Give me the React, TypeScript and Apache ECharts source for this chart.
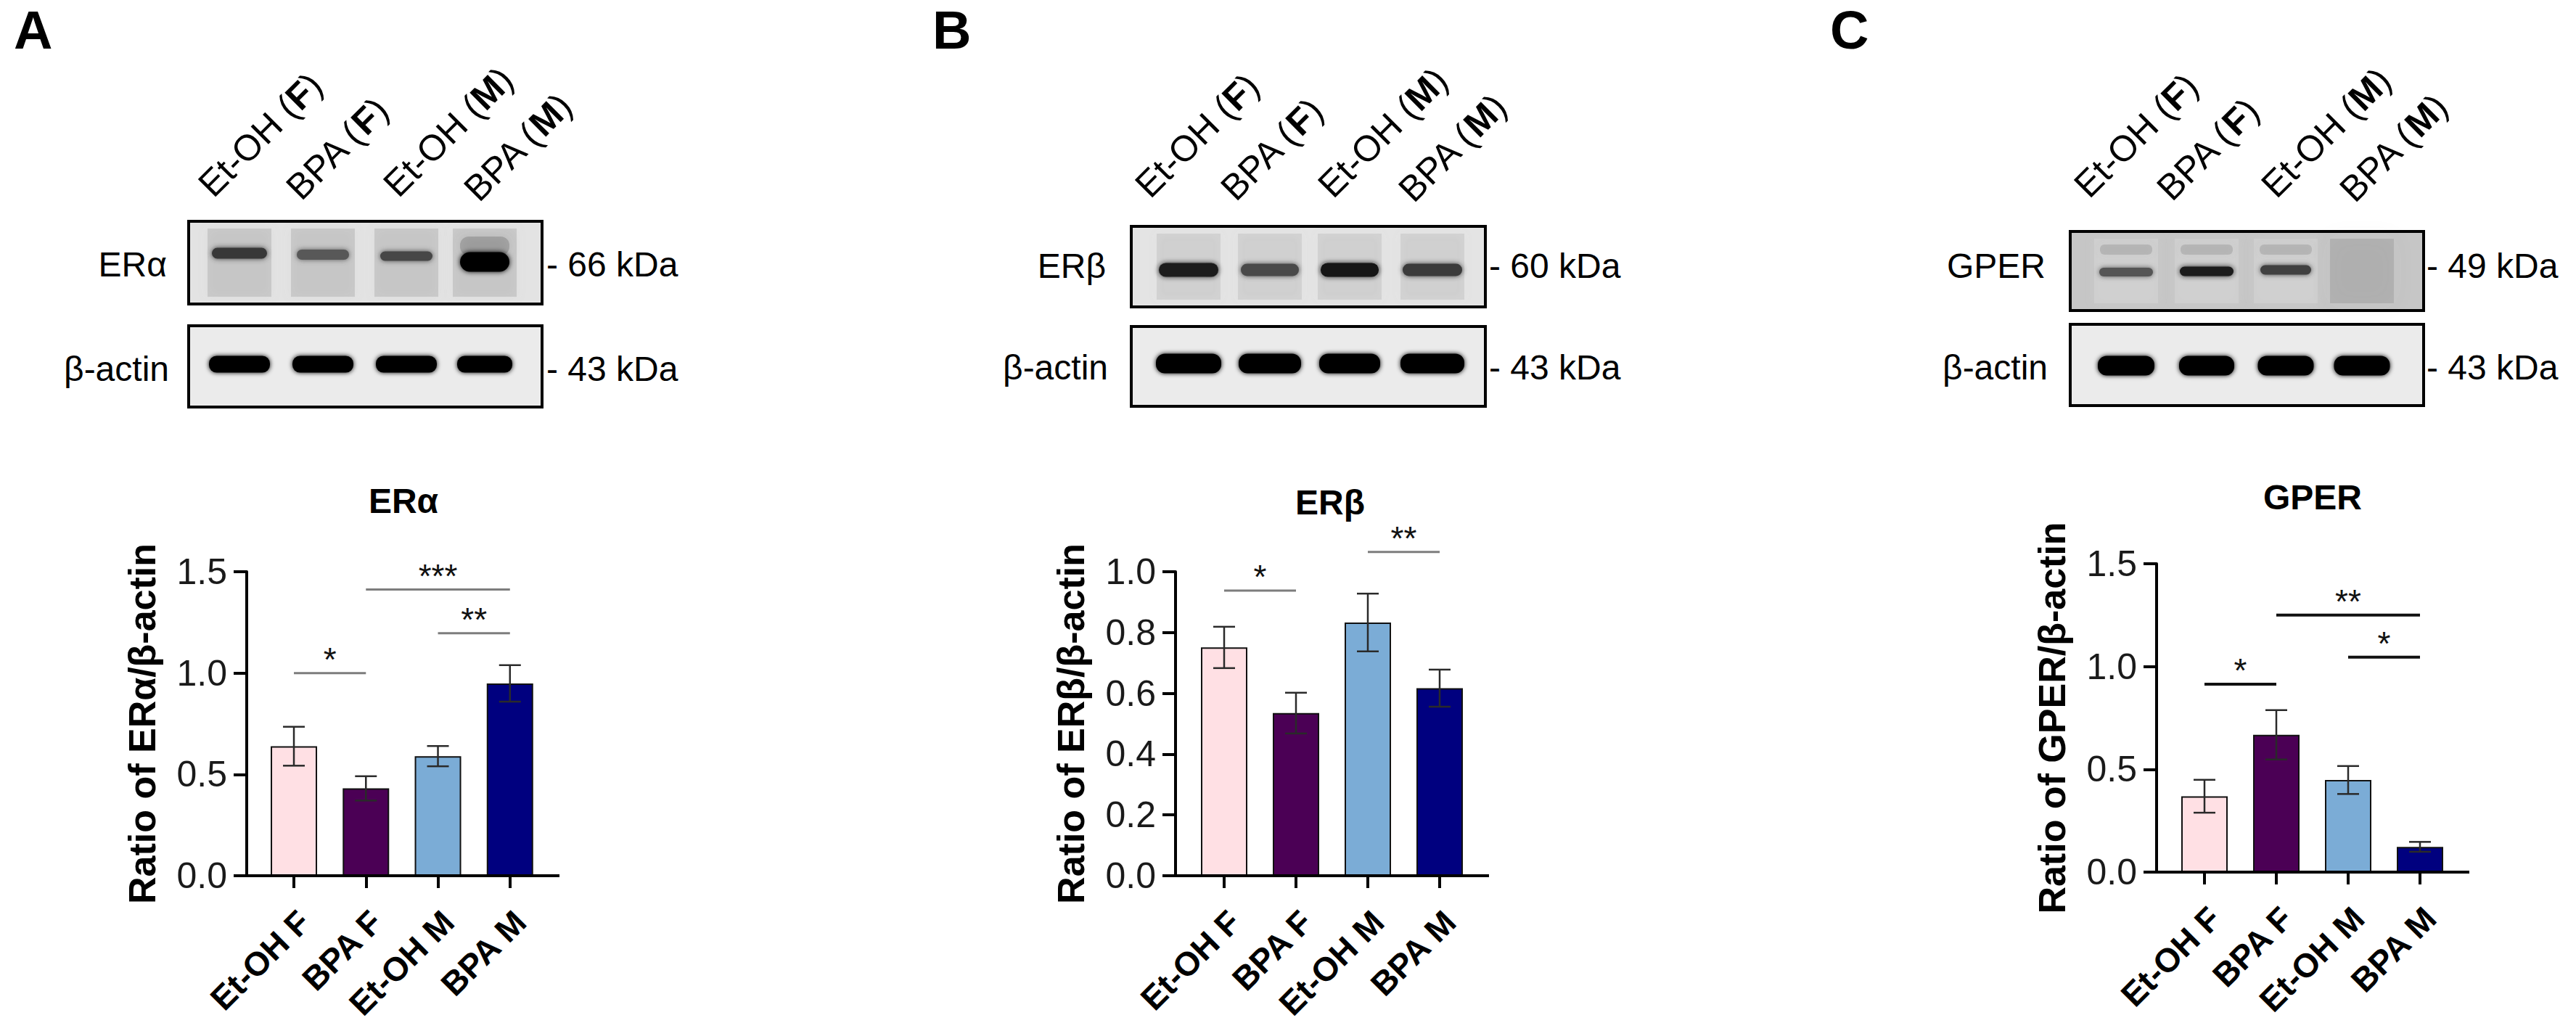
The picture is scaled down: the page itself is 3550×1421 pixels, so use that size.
import React, { useEffect, useRef } from "react";
import * as echarts from "echarts";

// ---------------- DATA ----------------
const categories = ["Et-OH F", "BPA F", "Et-OH M", "BPA M"];
const barColors = ["#FFE0E4", "#4B0055", "#7BACD6", "#00007F"];

const erAlphaMean = [0.639, 0.431, 0.59, 0.949];
const erAlphaSem = [0.096, 0.06, 0.05, 0.09];
const erBetaMean = [0.751, 0.535, 0.833, 0.617];
const erBetaSem = [0.068, 0.067, 0.095, 0.061];
const gperMean = [0.369, 0.668, 0.448, 0.123];
const gperSem = [0.08, 0.12, 0.068, 0.024];

// significance brackets: [fromIndex, toIndex, yValue]
const erAlphaSig = [[0, 1, 1.0], [1, 3, 1.412], [2, 3, 1.197]];
const erAlphaSigLabels = ["*", "***", "**"];
const erBetaSig = [[0, 1, 0.938], [2, 3, 1.065]];
const erBetaSigLabels = ["*", "**"];
const gperSig = [[0, 1, 0.914], [1, 3, 1.25], [2, 3, 1.046]];
const gperSigLabels = ["*", "**", "*"];

const erAlphaAxisMax = 1.5;
const erAlphaAxisStep = 0.5;
const erBetaAxisMax = 1.0;
const erBetaAxisStep = 0.2;
const gperAxisMax = 1.5;
const gperAxisStep = 0.5;

const laneLabels = ["Et-OH ({b|F})", "BPA ({b|F})", "Et-OH ({b|M})", "BPA ({b|M})"];

// relative band intensities of the blots (target protein), null = no visible band
const erAlphaBandColors = ["#383838", "#585858", "#474747", "#000000"];
const erBetaBandColors = ["#1e1e1e", "#4a4a4a", "#121212", "#3a3a3a"];
const gperBandColors = ["#555555", "#1c1c1c", "#404040", null];

// ---------------- LAYOUT ----------------
const FF = 'Arial, "Liberation Sans", Helvetica, sans-serif';

const panels = [
  {
    letter: "A", letterPos: [19, 41],
    lanes: [330, 445, 560, 668],
    laneLabelPos: [[300, 280], [421, 284], [555, 280], [666, 286]],
    box: { x: 260, w: 487, topY: 305, topH: 114, botY: 449, botH: 112 },
    target: "ERα", kda: "- 66 kDa", labelRight: 230, kdaX: 753, targetY: 364, actinY: 508,
    topBg: "#e3e3e3", laneTint: "rgba(140,140,140,0.28)", lastLaneTint: null,
    bandColors: erAlphaBandColors, bandY: [349, 351, 353, 361], bandH: [15, 14, 13, 27], bandW: [76, 72, 72, 68],
    actinBandY: 502, actinBandH: 23, actinBandW: [84, 84, 84, 76],
    title: "ERα", titlePos: [556, 690],
    yName: "Ratio of ERα/β-actin",
    grid: { left: 355.4, width: 397, top: 788, height: 419 }, axisX: 340, xEnd: 771,
    yMax: erAlphaAxisMax, yStep: erAlphaAxisStep,
    mean: erAlphaMean, sem: erAlphaSem, sig: erAlphaSig, sigLabels: erAlphaSigLabels,
    sigColor: "#7d7d7d", sigWidth: 3,
  },
  {
    letter: "B", letterPos: [1285, 41],
    lanes: [1638, 1750, 1860, 1974],
    laneLabelPos: [[1591, 281], [1709, 285], [1843, 281], [1954, 287]],
    box: { x: 1559, w: 488, topY: 312, topH: 111, botY: 450, botH: 110 },
    target: "ERβ", kda: "- 60 kDa", labelRight: 1524, kdaX: 2052, targetY: 366, actinY: 506,
    topBg: "#e4e4e4", laneTint: "rgba(150,150,150,0.22)", lastLaneTint: null,
    bandColors: erBetaBandColors, bandY: [372, 372, 372, 372], bandH: [19, 17, 19, 17], bandW: [82, 80, 80, 82],
    actinBandY: 501, actinBandH: 27, actinBandW: [90, 86, 84, 88],
    title: "ERβ", titlePos: [1833, 692],
    yName: "Ratio of ERβ/β-actin",
    grid: { left: 1637.5, width: 396, top: 788, height: 419 }, axisX: 1620, xEnd: 2052,
    yMax: erBetaAxisMax, yStep: erBetaAxisStep,
    mean: erBetaMean, sem: erBetaSem, sig: erBetaSig, sigLabels: erBetaSigLabels,
    sigColor: "#7d7d7d", sigWidth: 3,
  },
  {
    letter: "C", letterPos: [2522, 41],
    lanes: [2930, 3041, 3150, 3255],
    laneLabelPos: [[2885, 281], [2999, 285], [3143, 281], [3251, 287]],
    box: { x: 2853, w: 487, topY: 319, topH: 109, botY: 447, botH: 112 },
    target: "GPER", kda: "- 49 kDa", labelRight: 2819, kdaX: 3344, targetY: 366, actinY: 506,
    topBg: "#c6c6c6", laneTint: "rgba(225,225,225,0.3)", lastLaneTint: "rgba(110,110,110,0.22)",
    bandColors: gperBandColors, bandY: [375, 374, 372, 374], bandH: [12, 13, 13, 10], bandW: [74, 74, 70, 60],
    actinBandY: 504, actinBandH: 27, actinBandW: [78, 76, 77, 77],
    title: "GPER", titlePos: [3187, 685],
    yName: "Ratio of GPER/β-actin",
    grid: { left: 2988.5, width: 396, top: 777, height: 425 }, axisX: 2972, xEnd: 3403,
    yMax: gperAxisMax, yStep: gperAxisStep,
    mean: gperMean, sem: gperSem, sig: gperSig, sigLabels: gperSigLabels,
    sigColor: "#111111", sigWidth: 4,
  },
];

function txt(x: number, y: number, text: string, fontSize: number, opts: any = {}) {
  return {
    type: "text",
    x, y,
    rotation: opts.rotation || 0,
    silent: true,
    z: opts.z || 10,
    style: {
      text,
      fill: opts.fill || "#000",
      fontSize,
      fontFamily: FF,
      fontWeight: opts.bold ? "bold" : "normal",
      textAlign: opts.align || "left",
      textVerticalAlign: opts.vAlign || "middle",
      rich: opts.rich,
    },
  };
}

function blotElements(p: any) {
  const els: any[] = [];
  const b = p.box;
  // target blot background
  els.push({ type: "rect", z: 1, shape: { x: b.x, y: b.topY, width: b.w, height: b.topH }, style: { fill: p.topBg } });
  p.lanes.forEach((L: number, i: number) => {
    const tint = i === 3 && p.lastLaneTint ? p.lastLaneTint : p.laneTint;
    const blur = i === 3 && p.lastLaneTint ? 30 : 14;
    els.push({ type: "rect", z: 2, shape: { x: L - 44, y: b.topY + 10, width: 88, height: b.topH - 20 }, style: { fill: tint, shadowBlur: blur, shadowColor: tint } });
  });
  if (p.letter === "A") {
    els.push({ type: "rect", z: 3, shape: { x: p.lanes[3] - 34, y: 326, width: 68, height: 26, r: 12 }, style: { fill: "rgba(100,100,100,0.35)", shadowBlur: 16, shadowColor: "rgba(100,100,100,0.35)" } });
  }
  if (p.letter === "C") {
    [0, 1, 2].forEach((i) => {
      els.push({ type: "rect", z: 3, shape: { x: p.lanes[i] - 36, y: 337, width: 72, height: 14, r: 6 }, style: { fill: "rgba(130,130,130,0.3)", shadowBlur: 10, shadowColor: "rgba(130,130,130,0.3)" } });
    });
  }
  p.lanes.forEach((L: number, i: number) => {
    const c = p.bandColors[i];
    if (!c) return;
    const w = p.bandW[i], h = p.bandH[i];
    els.push({ type: "rect", z: 4, shape: { x: L - w / 2, y: p.bandY[i] - h / 2, width: w, height: h, r: h / 2 }, style: { fill: c, shadowBlur: 7, shadowColor: c } });
  });
  els.push({ type: "rect", z: 6, shape: { x: b.x, y: b.topY, width: b.w, height: b.topH }, style: { fill: "none", stroke: "#000", lineWidth: 4 } });
  // actin blot
  els.push({ type: "rect", z: 1, shape: { x: b.x, y: b.botY, width: b.w, height: b.botH }, style: { fill: "#ebebeb" } });
  p.lanes.forEach((L: number, i: number) => {
    const w = p.actinBandW[i], h = p.actinBandH;
    els.push({ type: "rect", z: 4, shape: { x: L - w / 2, y: p.actinBandY - h / 2, width: w, height: h, r: h / 2.2 }, style: { fill: "#000", shadowBlur: 6, shadowColor: "#000" } });
  });
  els.push({ type: "rect", z: 6, shape: { x: b.x, y: b.botY, width: b.w, height: b.botH }, style: { fill: "none", stroke: "#000", lineWidth: 4 } });
  // labels
  els.push(txt(p.labelRight, p.targetY, p.target, 48, { align: "right" }));
  els.push(txt(p.labelRight + 3, p.actinY, "β-actin", 48, { align: "right" }));
  els.push(txt(p.kdaX, p.targetY, p.kda, 48));
  els.push(txt(p.kdaX, p.actinY, "- 43 kDa", 48));
  // lane labels
  p.laneLabelPos.forEach((pos: number[], i: number) => {
    els.push(txt(pos[0], pos[1], laneLabels[i], 50, {
      rotation: Math.PI / 4, vAlign: "bottom",
      rich: { b: { fontWeight: "bold", fontSize: 50, fontFamily: FF, fill: "#000" } },
    }));
  });
  // panel letter & chart title
  els.push(txt(p.letterPos[0], p.letterPos[1], p.letter, 74, { bold: true }));
  els.push(txt(p.titlePos[0], p.titlePos[1], p.title, 48, { bold: true, align: "center" }));
  // x baseline
  const y0 = p.grid.top + p.grid.height;
  els.push({ type: "line", z: 20, shape: { x1: p.axisX - 2, y1: y0, x2: p.xEnd, y2: y0 }, style: { stroke: "#000", lineWidth: 4 } });
  return els;
}

function buildOption() {
  const grids: any[] = [];
  const xAxes: any[] = [];
  const yAxes: any[] = [];
  const series: any[] = [];
  let graphics: any[] = [];

  panels.forEach((p, gi) => {
    grids.push({ left: p.grid.left, top: p.grid.top, width: p.grid.width, height: p.grid.height, containLabel: false, outerBoundsMode: "none" });
    xAxes.push({
      gridIndex: gi, type: "category", data: categories, boundaryGap: true,
      axisLine: { show: false },
      axisTick: { show: true, alignWithLabel: true, length: 17, lineStyle: { width: 4, color: "#000" } },
      axisLabel: { show: false },
      splitLine: { show: false },
    });
    yAxes.push({
      gridIndex: gi, type: "value", min: 0, max: p.yMax, interval: p.yStep,
      offset: p.grid.left - p.axisX,
      axisLine: { show: true, onZero: false, lineStyle: { color: "#000", width: 4 } },
      axisTick: { show: true, length: 18, lineStyle: { color: "#000", width: 4 } },
      axisLabel: { formatter: (v: number) => v.toFixed(1), fontSize: 50, color: "#1a1a1a", fontFamily: FF, margin: 27, showMinLabel: true, showMaxLabel: true },
      splitLine: { show: false },
      name: p.yName, nameLocation: "middle", nameGap: 118, nameRotate: 90, nameMoveOverlap: false,
      nameTextStyle: { fontSize: 52, fontWeight: "bold", fontFamily: FF, color: "#000" },
    });
    series.push({
      type: "bar", xAxisIndex: gi, yAxisIndex: gi, barWidth: 64, z: 2,
      data: p.mean.map((v, j) => ({ value: v, itemStyle: { color: barColors[j] } })),
      itemStyle: { borderColor: "#111", borderWidth: 2 },
      emphasis: { disabled: true },
    });
    series.push({
      type: "custom", xAxisIndex: gi, yAxisIndex: gi, z: 3,
      data: p.mean.map((m, j) => [j, m, p.sem[j]]),
      encode: { x: 0, y: 1 },
      renderItem: (params: any, api: any) => {
        const x = api.value(0), m = api.value(1), s = api.value(2);
        const t = api.coord([x, m + s]);
        const b = api.coord([x, m - s]);
        const hw = 15;
        const st = { stroke: "#2a2a2a", lineWidth: 2.5 };
        return {
          type: "group",
          children: [
            { type: "line", shape: { x1: t[0], y1: t[1], x2: b[0], y2: b[1] }, style: st },
            { type: "line", shape: { x1: t[0] - hw, y1: t[1], x2: t[0] + hw, y2: t[1] }, style: st },
            { type: "line", shape: { x1: b[0] - hw, y1: b[1], x2: b[0] + hw, y2: b[1] }, style: st },
          ],
        };
      },
    });
    // category labels (rotated 45°), placed through the axis scale
    series.push({
      type: "custom", xAxisIndex: gi, yAxisIndex: gi, z: 5, clip: false, silent: true,
      data: categories.map((c, j) => [j, 0]),
      encode: { x: 0, y: 1 },
      renderItem: (params: any, api: any) => {
        const pt = api.coord([api.value(0), 0]);
        return {
          type: "text", x: pt[0] + 14, y: pt[1] + 56, rotation: Math.PI / 4,
          style: { text: categories[params.dataIndex], fill: "#000", fontSize: 46, fontWeight: "bold", fontFamily: FF, textAlign: "right", textVerticalAlign: "middle" },
        };
      },
    });
    const labels = p.sigLabels;
    series.push({
      type: "custom", xAxisIndex: gi, yAxisIndex: gi, z: 4, clip: false,
      data: p.sig.map((s) => [s[0], s[1], s[2]]),
      encode: { x: [0, 1], y: 2 },
      renderItem: (params: any, api: any) => {
        const a = api.coord([api.value(0), api.value(2)]);
        const b = api.coord([api.value(1), api.value(2)]);
        return {
          type: "group",
          children: [
            { type: "line", shape: { x1: a[0], y1: a[1], x2: b[0], y2: b[1] }, style: { stroke: p.sigColor, lineWidth: p.sigWidth } },
            {
              type: "text", x: (a[0] + b[0]) / 2, y: a[1] - 19,
              style: { text: labels[params.dataIndex], fill: "#111", fontSize: 46, fontFamily: FF, textAlign: "center", textVerticalAlign: "middle" },
            },
          ],
        };
      },
    });
    graphics = graphics.concat(blotElements(p));
  });

  return {
    animation: false,
    backgroundColor: "#ffffff",
    grid: grids,
    xAxis: xAxes,
    yAxis: yAxes,
    series,
    graphic: { elements: graphics },
  };
}

export default function App() {
  const ref = useRef<HTMLDivElement>(null);
  useEffect(() => {
    if (!ref.current) return;
    const chart = echarts.init(ref.current, null, { renderer: "svg", width: 3550, height: 1421 });
    chart.setOption(buildOption() as any);
    return () => {
      chart.dispose();
    };
  }, []);
  return (
    <div
      ref={ref}
      style={{ position: "absolute", left: 0, top: 0, width: 3550, height: 1421, background: "#fff" }}
    />
  );
}
